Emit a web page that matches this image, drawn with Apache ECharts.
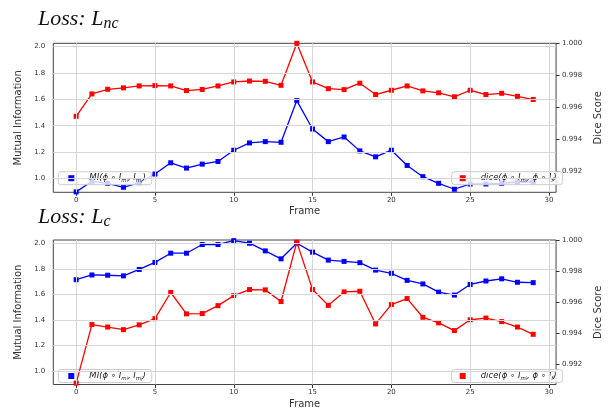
<!DOCTYPE html>
<html>
<head>
<meta charset="utf-8">
<script src="https://cdn.jsdelivr.net/npm/echarts@6/dist/echarts.min.js"></script>
<style>
html,body{margin:0;padding:0;background:#fff;}
#c{width:611px;height:410px;}
</style>
</head>
<body>
<div id="c"></div>
<script>
// ---- data ----
const frames = [0,1,2,3,4,5,6,7,8,9,10,11,12,13,14,15,16,17,18,19,20,21,22,23,24,25,26,27,28,29];
const miNc   = [0.90,0.98,0.965,0.935,0.97,1.035,1.12,1.08,1.11,1.13,1.215,1.27,1.28,1.275,1.59,1.375,1.28,1.315,1.21,1.165,1.215,1.10,1.015,0.965,0.92,0.96,0.96,0.965,0.975,0.975];
const diceNc = [0.99543,0.99683,0.99712,0.99721,0.99733,0.99735,0.99733,0.99704,0.99711,0.99733,0.99758,0.99764,0.99762,0.99737,1.0000,0.99758,0.99716,0.99710,0.99750,0.99679,0.99706,0.99733,0.99702,0.99690,0.99665,0.99706,0.99679,0.99687,0.99668,0.99648];
const miC    = [1.715,1.752,1.75,1.745,1.795,1.85,1.922,1.922,1.99,1.99,2.02,2.00,1.94,1.878,2.00,1.93,1.868,1.858,1.848,1.79,1.765,1.71,1.682,1.618,1.595,1.678,1.705,1.722,1.695,1.692];
const diceC  = [0.9908,0.99458,0.99442,0.99425,0.99456,0.99496,0.99665,0.99527,0.99529,0.99580,0.99645,0.99684,0.99682,0.99607,0.9999,0.99684,0.99582,0.99669,0.99673,0.99462,0.99587,0.99626,0.99505,0.99469,0.99419,0.99489,0.99500,0.99477,0.99442,0.99395];
const xTicks = [0,5,10,15,20,25,30];
const miTicks = [1.0,1.2,1.4,1.6,1.8,2.0];
const diceTicks = [0.992,0.994,0.996,0.998,1.000];
const titles = ['Loss: L', 'Loss: L'];
const titleSubs = ['nc', 'c'];
const miName = 'MI';
const diceName = 'dice';
// ---------------

const chart = echarts.init(document.getElementById('c'), null, {renderer:'canvas'});
const FONT = 'DejaVu Sans';
const tickColor = '#333';
const gridTops = [43.3, 240];
const gridH = [149, 149.3];

function pairs(ys){ return frames.map((f,i)=>[f, ys[i]]); }

const grids = gridTops.map((t,i)=>({left:53.3, top:t, width:513.4, height:gridH[i], show:true, borderColor:'#444', borderWidth:1, backgroundColor:'transparent'}));

const xAxes = [0,1].map(i=>({
  type:'value', gridIndex:i, min:-1.45, max:30.45,
  name:'Frame', nameLocation:'middle', nameGap:14.5,
  nameTextStyle:{fontFamily:FONT, fontSize:10, color:'#333', verticalAlign:'top'},
  axisLine:{show:false}, splitLine:{show:false},
  axisTick:{show:true, length:3.5, customValues:xTicks, lineStyle:{color:'#333'}},
  axisLabel:{customValues:xTicks, margin:4, fontFamily:FONT, fontSize:7, color:tickColor}
}));

const yAxes = [];
[0,1].forEach(i=>{
  yAxes.push({
    type:'value', gridIndex:i, position:'left', min:0.897, max: i===0?2.023:2.025,
    name:'Mutual Information', nameLocation:'middle', nameGap:21, nameRotate:90,
    nameTextStyle:{fontFamily:FONT, fontSize:10, color:'#333'},
    axisLine:{show:false}, splitLine:{show:false},
    axisTick:{show:true, length:3.5, customValues:miTicks, lineStyle:{color:'#333'}},
    axisLabel:{customValues:miTicks, margin:8, fontFamily:FONT, fontSize:7, color:tickColor, formatter:v=>v.toFixed(1)}
  });
  yAxes.push({
    type:'value', gridIndex:i, position:'right', min: i===0?0.99067:0.99071, max: i===0?1.0000:1.00004,
    name:'Dice Score', nameLocation:'middle', nameGap:30, nameRotate:90,
    nameTextStyle:{fontFamily:FONT, fontSize:10, color:'#333'},
    axisLine:{show:false}, splitLine:{show:false},
    axisTick:{show:true, length:3.5, customValues:diceTicks, lineStyle:{color:'#333'}},
    axisLabel:{customValues:diceTicks, margin:6, fontFamily:FONT, fontSize:7, color:tickColor, formatter:v=>v.toFixed(3)}
  });
});

const gridLineStyle = {color:'#d6d6d6', width:1, type:'solid'};
const series = [];
[0,1].forEach(i=>{
  series.push({
    type:'line', xAxisIndex:i, yAxisIndex:i*2, data:[], silent:true, z:0,
    markLine:{silent:true, symbol:'none', label:{show:false}, lineStyle:gridLineStyle, animation:false,
      data: miTicks.map(v=>({yAxis:v})).concat(xTicks.map(v=>({xAxis:v})))}
  });
  series.push({
    name: miName+i, type:'line', xAxisIndex:i, yAxisIndex:i*2,
    data: pairs(i===0?miNc:miC), symbol:'rect', symbolSize:5,
    itemStyle:{color:'#0000ff'}, lineStyle:{color:'#0000ff', width:1.3}, z:3, clip:true
  });
  series.push({
    name: diceName+i, type:'line', xAxisIndex:i, yAxisIndex:i*2+1,
    data: pairs(i===0?diceNc:diceC), symbol:'rect', symbolSize:5,
    itemStyle:{color:'#ff0000'}, lineStyle:{color:'#ff0000', width:1.3}, z:4, clip:true
  });
});

const base = {fontFamily:FONT, fontStyle:'italic', color:'#222'};
const legendText = Object.assign({}, base, {fontSize:8.5,
  rich:{
    g:{width:10, lineHeight:11},
    t:Object.assign({}, base, {fontSize:8.5, lineHeight:11, verticalAlign:'middle'}),
    s:Object.assign({}, base, {fontSize:5.5, lineHeight:7, verticalAlign:'bottom'}),
    ss:Object.assign({}, base, {fontSize:4.5, lineHeight:5, verticalAlign:'bottom'})
  }});
const miFmt = '{g|}{t|MI(ϕ ∘ I}{s|m}{ss|i}{t|, I}{s|m}{ss|j}{t|)}';
const diceFmt = '{g|}{t|dice(ϕ ∘ I}{s|m}{ss|i}{t|, ϕ ∘ I}{s|f}{t|)}';
const legends = [];
const legTops = [171.7, 369.5];
[0,1].forEach(i=>{
  legends.push({data:[miName+i], left:58.3, top:legTops[i], icon:'rect', itemWidth:6, itemHeight:6,
    padding:[2,6,1,10], backgroundColor:'rgba(255,255,255,0.8)', borderColor:'#ccc', borderWidth:1, borderRadius:3,
    textStyle:legendText, formatter:()=>miFmt, selectedMode:false});
  legends.push({data:[diceName+i], left:451.7, top:legTops[i], icon:'rect', itemWidth:6, itemHeight:6,
    padding:[2,6,1,8], backgroundColor:'rgba(255,255,255,0.8)', borderColor:'#ccc', borderWidth:1, borderRadius:3,
    textStyle:legendText, formatter:()=>diceFmt, selectedMode:false});
});

const titleTops = [6, 204];
const titleComps = [0,1].map(i=>({
  text: '{a|'+titles[i]+'}{b|'+titleSubs[i]+'}', left:38, top:titleTops[i], padding:0,
  textStyle:{fontWeight:'normal', rich:{
    a:{fontFamily:'Liberation Serif', fontStyle:'italic', fontWeight:'normal', fontSize:22, color:'#111', lineHeight:24, verticalAlign:'bottom'},
    b:{fontFamily:'Liberation Serif', fontStyle:'italic', fontWeight:'normal', fontSize:16, color:'#111', lineHeight:16, verticalAlign:'top', padding:[10,0,0,0]}
  }}
}));

chart.setOption({
  animation:false,
  backgroundColor:'#fff',
  title: titleComps,
  grid: grids,
  xAxis: xAxes,
  yAxis: yAxes,
  legend: legends,
  series: series
});
</script>
</body>
</html>
